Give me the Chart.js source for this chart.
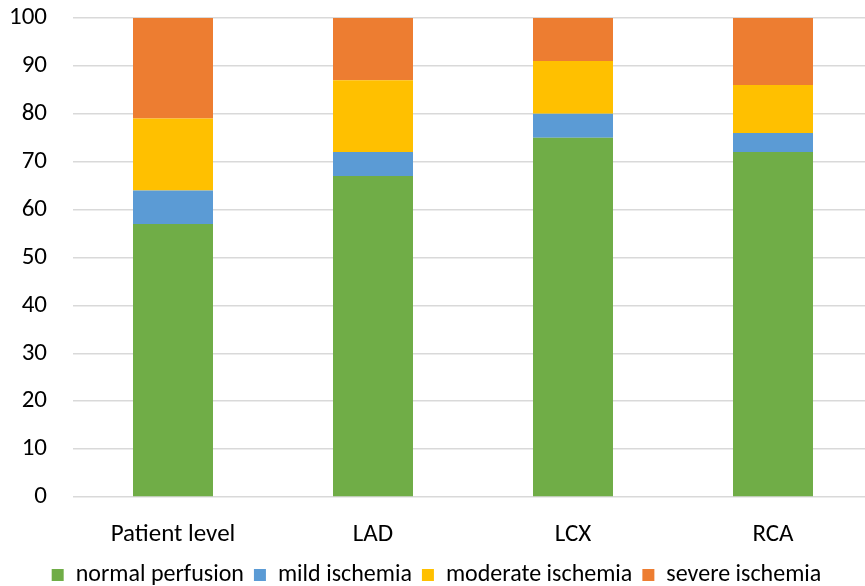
<!DOCTYPE html>
<html>
<head>
<meta charset="utf-8">
<script src="https://cdn.jsdelivr.net/npm/chart.js@4"></script>
<style>
  html, body { margin: 0; padding: 0; background: #fff; overflow: hidden; }
  #wrap { width: 873px; height: 597px; }
</style>
</head>
<body>
<div id="wrap"><canvas id="chart"></canvas></div>
<script>
const categories = ['Patient level', 'LAD', 'LCX', 'RCA'];
const normalPerfusion = [57, 67, 75, 72];
const mildIschemia = [7, 5, 5, 4];
const moderateIschemia = [15, 15, 11, 10];
const severeIschemia = [21, 13, 9, 14];
const yTicks = [0, 10, 20, 30, 40, 50, 60, 70, 80, 90, 100];

const font = "Carlito, Lato, sans-serif";

function series(label, data, color) {
  return { label, data, backgroundColor: color, borderWidth: 0, barPercentage: 0.4, categoryPercentage: 1 };
}

new Chart(document.getElementById('chart'), {
  type: 'bar',
  data: {
    labels: categories,
    datasets: [
      series('normal perfusion', normalPerfusion, '#70ad47'),
      series('mild ischemia', mildIschemia, '#5b9bd5'),
      series('moderate ischemia', moderateIschemia, '#ffc000'),
      series('severe ischemia', severeIschemia, '#ed7d31')
    ]
  },
  options: {
    responsive: true,
    maintainAspectRatio: false,
    animation: false,
    layout: { padding: { top: 18, bottom: 0 } },
    plugins: {
      tooltip: { enabled: false },
      legend: {
        position: 'bottom',
        labels: { font: { family: font, size: 24 }, color: '#000', boxWidth: 12, boxHeight: 12, padding: 10 }
      }
    },
    scales: {
      x: {
        stacked: true,
        afterFit: axis => { axis.height = 56; },
        grid: { display: false, drawTicks: false },
        border: { display: false },
        ticks: { font: { family: font, size: 25 }, color: '#000', padding: 23 }
      },
      y: {
        stacked: true,
        min: 0,
        max: 100,
        afterBuildTicks: axis => { axis.ticks = yTicks.map(v => ({ value: v })); },
        afterFit: axis => { axis.width = 73; },
        grid: { color: '#d9d9d9', lineWidth: 1.5, drawTicks: true, tickLength: 26, tickColor: 'rgba(0,0,0,0)' },
        border: { display: false },
        ticks: { font: { family: font, size: 25 }, color: '#000', padding: 0 }
      }
    }
  }
});
</script>
</body>
</html>
